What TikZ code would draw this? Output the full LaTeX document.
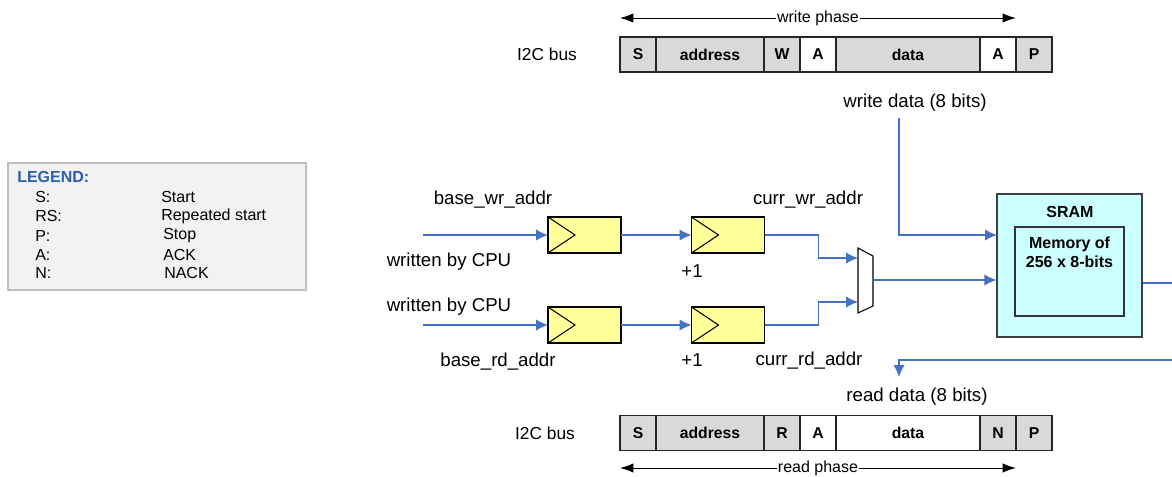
\documentclass[tikz,border=0pt]{standalone}
\usepackage{fontspec}
\setmainfont{Liberation Sans}
\usetikzlibrary{positioning,arrows.meta}
\definecolor{wireblue}{RGB}{68,114,196}
\definecolor{regyellow}{RGB}{255,255,153}
\definecolor{sramcyan}{RGB}{204,255,255}
\definecolor{busgray}{RGB}{217,217,217}
\definecolor{legendgray}{RGB}{242,242,242}
\definecolor{legendline}{RGB}{191,191,191}
\definecolor{legendblue}{RGB}{47,94,168}
\tikzset{
	sig/.style={wireblue, line width=0.95pt, -{Latex[length=9pt,width=8.5pt]}},
	wire/.style={wireblue, line width=0.95pt},
	phase/.style={line width=0.75pt, {Latex[length=10pt,width=7pt]}-{Latex[length=10pt,width=7pt]}},
	phaselbl/.style={fill=white, inner sep=1pt, font=\fontsize{12}{14}\selectfont},
	lbl/.style={inner sep=0pt, font=\fontsize{14}{16}\selectfont},
	buslbl/.style={inner sep=0pt, font=\fontsize{13}{15}\selectfont},
	field/.style={draw=black!85, line width=0.8pt, minimum height=26.25pt, inner sep=0pt, outer sep=0pt, font=\fontsize{11.8}{13}\bfseries\selectfont},
	reg/.style={draw, fill=regyellow, line width=0.9pt, minimum width=54.75pt, minimum height=27pt, inner sep=0pt, outer sep=0pt},
	legtxt/.style={anchor=west, inner sep=0pt, font=\fontsize{12}{14}\selectfont}
}
\begin{document}
\begin{tikzpicture}[x=0.75pt, y=-0.75pt]
	\useasboundingbox (0,0) rectangle (1172,476);
	% legend
	\draw[fill=legendgray, draw=legendline, line width=0.8pt] (8,163) rectangle (306,290);
	\node[legtxt, text=legendblue, font=\fontsize{12}{14}\bfseries\selectfont] (leghead) at (17,177) {LEGEND:};
	\node[legtxt] (legs) at (35,196.5) {S:};
	\node[legtxt] (legrs) at (35,216) {RS:};
	\node[legtxt] (legp) at (35,235.5) {P:};
	\node[legtxt] (lega) at (35,254.5) {A:};
	\node[legtxt] (legn) at (35,273) {N:};
	\node[legtxt] (legstart) at (161,196.5) {Start};
	\node[legtxt] (legrstart) at (161,216) {Repeated start};
	\node[legtxt] (legstop) at (163,235.5) {Stop};
	\node[legtxt] (legack) at (163,254.5) {ACK};
	\node[legtxt] (legnack) at (164,273) {NACK};
	% write transfer
	\coordinate (wpl) at (620,18);
	\coordinate (wpr) at (1016,18);
	\draw[phase] (wpl) -- node[phaselbl] (wplbl) {write phase} (wpr);
	\node[buslbl] (busw) at (547,54.5) {I2C bus};
	\node[field, fill=busgray, minimum width=27pt, anchor=west] (ws) at (620,54.5) {S};
	\node[field, fill=busgray, minimum width=81pt, right=0pt of ws] (waddr) {address};
	\node[field, fill=busgray, minimum width=27pt, right=0pt of waddr] (ww) {W};
	\node[field, fill=white, minimum width=27pt, right=0pt of ww] (wa) {A};
	\node[field, fill=busgray, minimum width=108pt, right=0pt of wa] (wdat) {data};
	\node[field, fill=white, minimum width=27pt, right=0pt of wdat] (wa2) {A};
	\node[field, fill=busgray, minimum width=27pt, right=0pt of wa2] (wp) {P};
	\node[lbl] (wdata) at (915,103) {write data (8 bits)};
	% read transfer
	\node[buslbl] (busr) at (545,433) {I2C bus};
	\node[field, fill=busgray, minimum width=27pt, anchor=west] (rs) at (620,433) {S};
	\node[field, fill=busgray, minimum width=81pt, right=0pt of rs] (raddr) {address};
	\node[field, fill=busgray, minimum width=27pt, right=0pt of raddr] (rr) {R};
	\node[field, fill=white, minimum width=27pt, right=0pt of rr] (ra) {A};
	\node[field, fill=white, minimum width=108pt, right=0pt of ra] (rdat) {data};
	\node[field, fill=busgray, minimum width=27pt, right=0pt of rdat] (rn) {N};
	\node[field, fill=busgray, minimum width=27pt, right=0pt of rn] (rp) {P};
	\coordinate (rpl) at (620,468);
	\coordinate (rpr) at (1016,468);
	\draw[phase] (rpl) -- node[phaselbl] (rplbl) {read phase} (rpr);
	\node[lbl] (rdata) at (917,397) {read data (8 bits)};
	% address registers
	\node[reg] (bwr) at (584.5,235) {};
	\node[reg] (cwr) at (728,235) {};
	\node[reg] (brd) at (584.5,325) {};
	\node[reg] (crd) at (728,325) {};
	\draw[line width=0.8pt] (bwr.north west) -- ([xshift=20.25pt]bwr.west) -- (bwr.south west);
	\draw[line width=0.8pt] (cwr.north west) -- ([xshift=20.25pt]cwr.west) -- (cwr.south west);
	\draw[line width=0.8pt] (brd.north west) -- ([xshift=20.25pt]brd.west) -- (brd.south west);
	\draw[line width=0.8pt] (crd.north west) -- ([xshift=20.25pt]crd.west) -- (crd.south west);
	\node[lbl] (bwrlbl) at (493,200) {base\_wr\_addr};
	\node[lbl] (cpuwr) at (449,262) {written by CPU};
	\node[lbl] (cpurd) at (449,307) {written by CPU};
	\node[lbl] (brdlbl) at (498,362) {base\_rd\_addr};
	\node[lbl] (incwr) at (692,271) {+1};
	\node[lbl] (incrd) at (692,360) {+1};
	\node[lbl] (cwrlbl) at (808,200) {curr\_wr\_addr};
	\node[lbl] (crdlbl) at (809,361) {curr\_rd\_addr};
	% mux
	\draw[line width=0.8pt, fill=white] (858,248) -- (873,256) -- (873,306) -- (858,313) -- cycle;
	\coordinate (muxa) at (858,258);
	\coordinate (muxb) at (858,302);
	\coordinate (muxout) at (873,280);
	% sram
	\node[draw=black!75, fill=sramcyan, line width=0.9pt, minimum width=108.75pt, minimum height=107.25pt, inner sep=0pt] (sram) at (1069.5,265.5) {};
	\node[draw=black!80, line width=0.9pt, minimum width=81.75pt, minimum height=66.75pt, inner sep=0pt] (mem) at (1069.5,271.5) {};
	\node[inner sep=0pt, font=\fontsize{12}{14}\bfseries\selectfont] (sramlbl) at (1070,212) {SRAM};
	\node[inner sep=0pt, align=center, font=\fontsize{12}{14.5}\bfseries\selectfont] (memtxt) at (1069.5,252.5) {Memory of\\256 x 8-bits};
	% wires
	\coordinate (cpuwrin) at (423,235);
	\coordinate (cpurdin) at (423,325);
	\coordinate (wdtop) at (899,118);
	\coordinate (sramwin) at (997,235);
	\coordinate (sramout) at (1172,283);
	\coordinate (rdedge) at (1172,360);
	\coordinate (rdtip) at (899,377);
	\draw[sig] (cpuwrin) -- (bwr.west);
	\draw[sig] (cpurdin) -- (brd.west);
	\draw[sig] (bwr.east) -- (cwr.west);
	\draw[sig] (brd.east) -- (crd.west);
	\draw[sig] (cwr.east) -- ++(54,0) |- (muxa);
	\draw[sig] (crd.east) -- ++(54,0) |- (muxb);
	\draw[sig] (muxout) -- (muxout -| sram.west);
	\draw[sig] (wdtop) |- (sramwin);
	\draw[wire] (sramout -| sram.east) -- (sramout);
	\draw[sig] (rdedge) -| (rdtip);
\end{tikzpicture}
\end{document}
